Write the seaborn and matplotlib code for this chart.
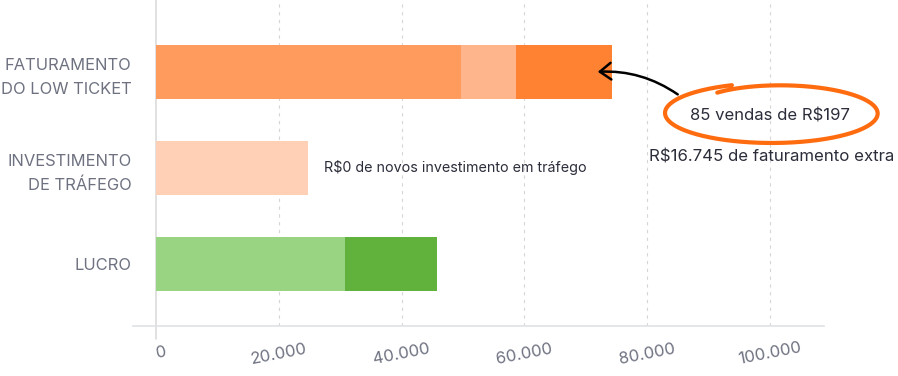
import numpy as np
import pandas as pd
import matplotlib
matplotlib.use("Agg")
import matplotlib.pyplot as plt
import seaborn as sns
from matplotlib.patches import FancyArrowPatch
from matplotlib.lines import Line2D

categories = ["FATURAMENTO\nDO LOW TICKET", "INVESTIMENTO\nDE TRÁFEGO", "LUCRO"]
base_values = [49700, 24800, 30800]
mid_values = [8900, 0, 0]
extra_values = [15700, 0, 14900]
base_colors = ["#FE9B5D", "#FFD0B6", "#98D481"]
mid_colors = ["#FFB58B", "#FFD0B6", "#98D481"]
extra_colors = ["#FF8232", "#FFD0B6", "#60B23D"]
x_ticks = [0, 20000, 40000, 60000, 80000, 100000]
x_tick_labels = ["0", "20.000", "40.000", "60.000", "80.000", "100.000"]
note_invest = "R$0 de novos investimento em tráfego"
note_sales = "85 vendas de R$197"
note_extra = "R$16.745 de faturamento extra"

sns.set_style("white")
plt.rcParams["font.family"] = ["Inter", "DejaVu Sans"]

W, H = 898, 376

df = pd.DataFrame({"cat": categories, "base": base_values,
                   "mid": mid_values, "extra": extra_values})
df["l1"] = df["base"]
df["l2"] = df["base"] + df["mid"]
df["l3"] = df["l2"] + df["extra"]

fig = plt.figure(figsize=(W / 100, H / 100), dpi=100)
ax = fig.add_axes([133 / W, 1 - 326 / H, 691 / W, 326 / H])

# stacked bars: draw cumulative totals, outermost first
for col, colors in [("l3", extra_colors), ("l2", mid_colors), ("l1", base_colors)]:
    sns.barplot(data=df, x=col, y="cat", hue="cat", order=categories,
                hue_order=categories, palette=dict(zip(categories, colors)),
                width=0.56, saturation=1, errorbar=None, legend=False,
                linewidth=0, orient="h", ax=ax, zorder=2)

ax.set_xlim(-3746, 108800)
ax.set_ylim(2.646, -0.75)
ax.set_xlabel("")
ax.set_ylabel("")

for v in x_ticks[1:]:
    ax.axvline(v, color="#d6d6d6", lw=0.8, ls=(0, (3, 4)), zorder=0)
ax.plot([0, 0], [-0.75, 2.78], color="#dcdcdc", lw=1.2, clip_on=False, zorder=1)

sns.despine(ax=ax, left=True, top=True, right=True)
ax.spines["bottom"].set_color("#dfe3e6")
ax.spines["bottom"].set_linewidth(1.2)

ax.tick_params(axis="y", length=0, pad=1, labelsize=11.9, labelcolor="#6e7180")
for lbl in ax.get_yticklabels():
    lbl.set_linespacing(1.68)

ax.set_xticks(x_ticks, x_tick_labels)
ax.tick_params(axis="x", length=0, pad=20, labelsize=12, labelcolor="#6e7180")
for i, lbl in enumerate(ax.get_xticklabels()):
    lbl.set_rotation(11)
    lbl.set_rotation_mode("anchor")
    lbl.set_ha("left" if i == 0 else "center")
    lbl.set_va("center")

ax.annotate(note_invest, xy=(df["l3"][1], 1), xytext=(11, 0),
            textcoords="offset points", ha="left", va="center",
            fontsize=10.3, color="#2b2d3a")

fig.text(770 / W, 1 - 116 / H, note_sales, ha="center", va="center",
         fontsize=12, color="#2b2d3a")
fig.text(772 / W, 1 - 157 / H, note_extra, ha="center", va="center",
         fontsize=12.1, color="#2b2d3a")

# hand-drawn circle around the sales note
t = np.linspace(np.radians(112), np.radians(112 + 375), 240)
s = np.linspace(0, 1, t.size)
shrink = 1 - 0.15 * s ** 6
cx, cy, rx, ry = 772, 113, 107, 30
xs = cx + rx * shrink * np.cos(t)
ys = cy - ry * shrink * np.sin(t)
fig.add_artist(Line2D(xs / W, 1 - ys / H, transform=fig.transFigure,
                      color="#FF6B0F", lw=3, solid_capstyle="round"))

arrow = FancyArrowPatch((680 / W, 1 - 96 / H), (595 / W, 1 - 72 / H),
                        transform=fig.transFigure,
                        connectionstyle="arc3,rad=0.18",
                        arrowstyle="->,head_length=0.4,head_width=0.3",
                        mutation_scale=20, color="black", lw=1.8)
fig.add_artist(arrow)

fig.savefig("out.png", dpi=100)
